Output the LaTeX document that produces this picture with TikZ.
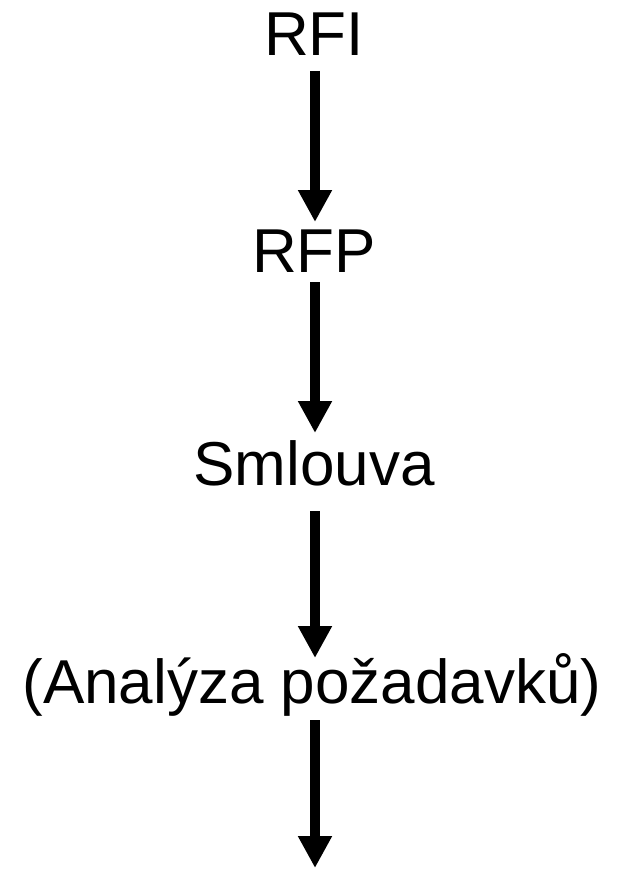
\documentclass[tikz,border=0pt]{standalone}
\usepackage{fontspec}
\setmainfont{Liberation Sans}
\usetikzlibrary{arrows.meta}
\tikzset{
  label/.style={font=\fontsize{62}{70}\selectfont, inner sep=0pt, anchor=base},
  flow/.style={line width=10pt, -{Triangle[width=32pt,length=32pt]}},
}
\begin{document}
\begin{tikzpicture}[x=1pt,y=-1pt]
  \useasboundingbox[fill=white] (0,0) rectangle (616,869);
  \node[label] (rfi) at (314,56) {RFI};
  \node[label] (rfp) at (314,272) {RFP};
  \node[label] (sml) at (314,485) {Smlouva};
  \node[label] (ana) at (312,703) {(Analýza požadavků)};
  \coordinate (end) at (315,868);
  \draw[flow] ([xshift=1pt,yshift=-15pt]rfi.base) -- ([xshift=1pt,yshift=50pt]rfp.base);
  \draw[flow] ([xshift=1pt,yshift=-10pt]rfp.base) -- ([xshift=1pt,yshift=52pt]sml.base);
  \draw[flow] ([xshift=1pt,yshift=-26pt]sml.base) -- ([xshift=3pt,yshift=45pt]ana.base);
  \draw[flow] ([xshift=3pt,yshift=-17pt]ana.base) -- (end);
\end{tikzpicture}
\end{document}
